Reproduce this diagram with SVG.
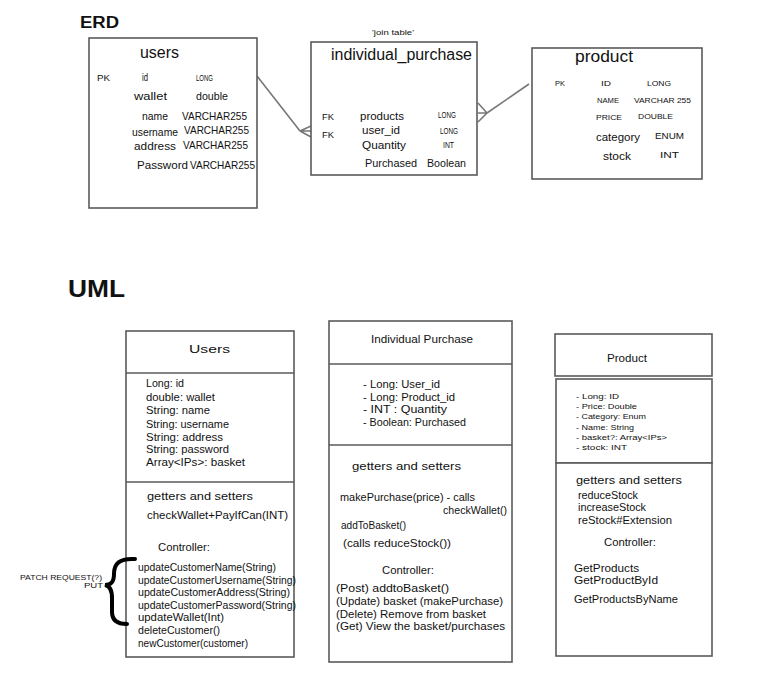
<svg xmlns="http://www.w3.org/2000/svg" width="763" height="685" viewBox="0 0 763 685">
<style>
text{font-family:"Liberation Sans",Arial,sans-serif;fill:#111;}
.box{fill:#fff;stroke:#5a5a5a;stroke-width:1.6;}
.sep{stroke:#5a5a5a;stroke-width:1.6;fill:none;}
.t{font-size:11px;}
.s{font-size:9px;}
.xs{font-size:8px;}
.h{font-size:16px;}
.title{font-weight:bold;}
.conn{stroke:#777;stroke-width:1.6;fill:none;}
</style>
<rect width="763" height="685" fill="#fff"/>

<text class="title" x="80" y="28" font-size="16" textLength="39" lengthAdjust="spacingAndGlyphs">ERD</text>
<text class="title" x="68" y="297" font-size="24" textLength="57" lengthAdjust="spacingAndGlyphs">UML</text>

<g id="connectors">
  <path class="conn" d="M257,76 L300,131"/>
  <path class="conn" d="M300,131 L311,126 M300,131 L311,137 M300,131 L311,131"/>
  <path class="conn" d="M529,84 L487,113"/>
  <path class="conn" d="M487,113 L478,103 M487,113 L478,122 M487,113 L478,113"/>
</g>

<g id="erd-users">
  <rect class="box" x="89" y="38" width="168" height="170"/>
  <text class="h" x="140" y="58" textLength="39" lengthAdjust="spacingAndGlyphs">users</text>
  <text class="s" x="97" y="81" textLength="13" lengthAdjust="spacingAndGlyphs">PK</text>
  <text class="t" x="142" y="81" textLength="6" lengthAdjust="spacingAndGlyphs">id</text>
  <text class="s" x="196" y="81" textLength="17" lengthAdjust="spacingAndGlyphs">LONG</text>
  <text class="t" x="134" y="100" textLength="33" lengthAdjust="spacingAndGlyphs">wallet</text>
  <text class="t" x="196" y="100" textLength="32" lengthAdjust="spacingAndGlyphs">double</text>
  <text class="t" x="142" y="120" textLength="26" lengthAdjust="spacingAndGlyphs">name</text>
  <text class="t" x="182" y="120" textLength="65" lengthAdjust="spacingAndGlyphs">VARCHAR255</text>
  <text class="t" x="132" y="136" textLength="46" lengthAdjust="spacingAndGlyphs">username</text>
  <text class="t" x="184" y="134" textLength="65" lengthAdjust="spacingAndGlyphs">VARCHAR255</text>
  <text class="t" x="134" y="150" textLength="42" lengthAdjust="spacingAndGlyphs">address</text>
  <text class="t" x="183" y="149" textLength="65" lengthAdjust="spacingAndGlyphs">VARCHAR255</text>
  <text class="t" x="137" y="169" textLength="51" lengthAdjust="spacingAndGlyphs">Password</text>
  <text class="t" x="190" y="169" textLength="65" lengthAdjust="spacingAndGlyphs">VARCHAR255</text>
</g>

<g id="erd-individual-purchase">
  <text class="xs" x="372" y="35" textLength="42" lengthAdjust="spacingAndGlyphs">'join table'</text>
  <rect class="box" x="311" y="42" width="166" height="133"/>
  <text class="h" x="331" y="60" textLength="141" lengthAdjust="spacingAndGlyphs">individual_purchase</text>
  <text class="s" x="322" y="120" textLength="12" lengthAdjust="spacingAndGlyphs">FK</text>
  <text class="t" x="360" y="120" textLength="44" lengthAdjust="spacingAndGlyphs">products</text>
  <text class="s" x="438" y="118" textLength="18" lengthAdjust="spacingAndGlyphs">LONG</text>
  <text class="s" x="322" y="138" textLength="12" lengthAdjust="spacingAndGlyphs">FK</text>
  <text class="t" x="362" y="134" textLength="38" lengthAdjust="spacingAndGlyphs">user_id</text>
  <text class="s" x="440" y="134" textLength="18" lengthAdjust="spacingAndGlyphs">LONG</text>
  <text class="t" x="362" y="149" textLength="44" lengthAdjust="spacingAndGlyphs">Quantity</text>
  <text class="s" x="443" y="148" textLength="11" lengthAdjust="spacingAndGlyphs">INT</text>
  <text class="t" x="365" y="167" textLength="52" lengthAdjust="spacingAndGlyphs">Purchased</text>
  <text class="t" x="427" y="167" textLength="39" lengthAdjust="spacingAndGlyphs">Boolean</text>
</g>

<g id="erd-product">
  <rect class="box" x="532" y="48" width="170" height="131"/>
  <text class="h" x="575" y="62" textLength="58" lengthAdjust="spacingAndGlyphs">product</text>
  <text class="xs" x="555" y="86" textLength="10" lengthAdjust="spacingAndGlyphs">PK</text>
  <text class="xs" x="601" y="86" textLength="10" lengthAdjust="spacingAndGlyphs">ID</text>
  <text class="xs" x="647" y="86" textLength="24" lengthAdjust="spacingAndGlyphs">LONG</text>
  <text class="xs" x="597" y="103" textLength="22" lengthAdjust="spacingAndGlyphs">NAME</text>
  <text class="xs" x="634" y="103" textLength="57" lengthAdjust="spacingAndGlyphs">VARCHAR 255</text>
  <text class="xs" x="596" y="120" textLength="26" lengthAdjust="spacingAndGlyphs">PRICE</text>
  <text class="xs" x="638" y="119" textLength="35" lengthAdjust="spacingAndGlyphs">DOUBLE</text>
  <text class="t" x="596" y="141" textLength="44" lengthAdjust="spacingAndGlyphs">category</text>
  <text class="s" x="655" y="139" textLength="29" lengthAdjust="spacingAndGlyphs">ENUM</text>
  <text class="t" x="603" y="160" textLength="28" lengthAdjust="spacingAndGlyphs">stock</text>
  <text class="s" x="660" y="158" textLength="19" lengthAdjust="spacingAndGlyphs">INT</text>
</g>

<g id="uml-users">
  <rect class="box" x="126" y="331" width="168" height="326"/>
  <line class="sep" x1="126" y1="373" x2="294" y2="373"/>
  <line class="sep" x1="126" y1="482" x2="294" y2="482"/>
  <text class="t" x="189" y="353" textLength="41" lengthAdjust="spacingAndGlyphs">Users</text>
  <text class="t" x="146" y="387" textLength="38" lengthAdjust="spacingAndGlyphs">Long: id</text>
  <text class="t" x="146" y="401" textLength="69" lengthAdjust="spacingAndGlyphs">double: wallet</text>
  <text class="t" x="146" y="414" textLength="64" lengthAdjust="spacingAndGlyphs">String: name</text>
  <text class="t" x="146" y="428" textLength="83" lengthAdjust="spacingAndGlyphs">String: username</text>
  <text class="t" x="146" y="441" textLength="77" lengthAdjust="spacingAndGlyphs">String: address</text>
  <text class="t" x="146" y="453" textLength="83" lengthAdjust="spacingAndGlyphs">String: password</text>
  <text class="t" x="146" y="466" textLength="99" lengthAdjust="spacingAndGlyphs">Array&lt;IPs&gt;: basket</text>
  <text class="t" x="147" y="500" textLength="106" lengthAdjust="spacingAndGlyphs">getters and setters</text>
  <text class="t" x="147" y="519" textLength="141" lengthAdjust="spacingAndGlyphs">checkWallet+PayIfCan(INT)</text>
  <text class="t" x="158" y="551" textLength="52" lengthAdjust="spacingAndGlyphs">Controller:</text>
  <text class="t" x="138" y="571" textLength="138" lengthAdjust="spacingAndGlyphs">updateCustomerName(String)</text>
  <text class="t" x="138" y="584" textLength="158" lengthAdjust="spacingAndGlyphs">updateCustomerUsername(String)</text>
  <text class="t" x="138" y="596" textLength="152" lengthAdjust="spacingAndGlyphs">updateCustomerAddress(String)</text>
  <text class="t" x="138" y="609" textLength="158" lengthAdjust="spacingAndGlyphs">updateCustomerPassword(String)</text>
  <text class="t" x="138" y="621" textLength="86" lengthAdjust="spacingAndGlyphs">updateWallet(Int)</text>
  <text class="t" x="138" y="634" textLength="82" lengthAdjust="spacingAndGlyphs">deleteCustomer()</text>
  <text class="t" x="138" y="647" textLength="110" lengthAdjust="spacingAndGlyphs">newCustomer(customer)</text>
</g>

<g id="patch-note">
  <path d="M135,559 C119,558 114,564 114,574 C114,582 111,585 105,585 C110,586 112,590 112,598 L112,612 C112,620 117,624 127,624" fill="none" stroke="#000" stroke-width="4" stroke-linecap="round"/>
  <text class="xs" x="20" y="580" textLength="82" lengthAdjust="spacingAndGlyphs">PATCH REQUEST(?)</text>
  <text class="xs" x="84" y="588" textLength="19" lengthAdjust="spacingAndGlyphs">PUT</text>
</g>

<g id="uml-individual-purchase">
  <rect class="box" x="329" y="321" width="183" height="341"/>
  <line class="sep" x1="329" y1="364" x2="512" y2="364"/>
  <line class="sep" x1="329" y1="445" x2="512" y2="445"/>
  <text class="t" x="371" y="343" textLength="102" lengthAdjust="spacingAndGlyphs">Individual Purchase</text>
  <text class="t" x="363" y="388" textLength="77" lengthAdjust="spacingAndGlyphs">- Long: User_id</text>
  <text class="t" x="363" y="401" textLength="92" lengthAdjust="spacingAndGlyphs">- Long: Product_id</text>
  <text class="t" x="363" y="413" textLength="84" lengthAdjust="spacingAndGlyphs">- INT : Quantity</text>
  <text class="t" x="363" y="426" textLength="103" lengthAdjust="spacingAndGlyphs">- Boolean: Purchased</text>
  <text class="t" x="352" y="470" textLength="109" lengthAdjust="spacingAndGlyphs">getters and setters</text>
  <text class="t" x="340" y="501" textLength="135" lengthAdjust="spacingAndGlyphs">makePurchase(price) - calls</text>
  <text class="t" x="443" y="514" textLength="64" lengthAdjust="spacingAndGlyphs">checkWallet()</text>
  <text class="t" x="341" y="529" textLength="65" lengthAdjust="spacingAndGlyphs">addToBasket()</text>
  <text class="t" x="343" y="547" textLength="108" lengthAdjust="spacingAndGlyphs">(calls reduceStock())</text>
  <text class="t" x="382" y="574" textLength="52" lengthAdjust="spacingAndGlyphs">Controller:</text>
  <text class="t" x="336" y="592" textLength="113" lengthAdjust="spacingAndGlyphs">(Post) addtoBasket()</text>
  <text class="t" x="336" y="605" textLength="167" lengthAdjust="spacingAndGlyphs">(Update) basket (makePurchase)</text>
  <text class="t" x="336" y="618" textLength="150" lengthAdjust="spacingAndGlyphs">(Delete) Remove from basket</text>
  <text class="t" x="336" y="630" textLength="169" lengthAdjust="spacingAndGlyphs">(Get) View the basket/purchases</text>
</g>

<g id="uml-product">
  <rect class="box" x="555" y="334" width="157" height="42"/>
  <rect class="box" x="556" y="379" width="156" height="84"/>
  <rect class="box" x="556" y="463" width="156" height="193"/>
  <text class="t" x="607" y="362" textLength="40" lengthAdjust="spacingAndGlyphs">Product</text>
  <text class="xs" x="576" y="399" textLength="43" lengthAdjust="spacingAndGlyphs">- Long: ID</text>
  <text class="xs" x="576" y="409" textLength="61" lengthAdjust="spacingAndGlyphs">- Price: Double</text>
  <text class="xs" x="576" y="419" textLength="70" lengthAdjust="spacingAndGlyphs">- Category: Enum</text>
  <text class="xs" x="576" y="430" textLength="58" lengthAdjust="spacingAndGlyphs">- Name: String</text>
  <text class="xs" x="576" y="440" textLength="91" lengthAdjust="spacingAndGlyphs">- basket?: Array&lt;IPs&gt;</text>
  <text class="xs" x="576" y="450" textLength="51" lengthAdjust="spacingAndGlyphs">- stock: INT</text>
  <text class="t" x="576" y="484" textLength="106" lengthAdjust="spacingAndGlyphs">getters and setters</text>
  <text class="t" x="578" y="499" textLength="60" lengthAdjust="spacingAndGlyphs">reduceStock</text>
  <text class="t" x="578" y="511" textLength="68" lengthAdjust="spacingAndGlyphs">increaseStock</text>
  <text class="t" x="578" y="524" textLength="94" lengthAdjust="spacingAndGlyphs">reStock#Extension</text>
  <text class="t" x="604" y="546" textLength="52" lengthAdjust="spacingAndGlyphs">Controller:</text>
  <text class="t" x="574" y="572" textLength="65" lengthAdjust="spacingAndGlyphs">GetProducts</text>
  <text class="t" x="574" y="584" textLength="84" lengthAdjust="spacingAndGlyphs">GetProductById</text>
  <text class="t" x="574" y="603" textLength="104" lengthAdjust="spacingAndGlyphs">GetProductsByName</text>
</g>
</svg>
